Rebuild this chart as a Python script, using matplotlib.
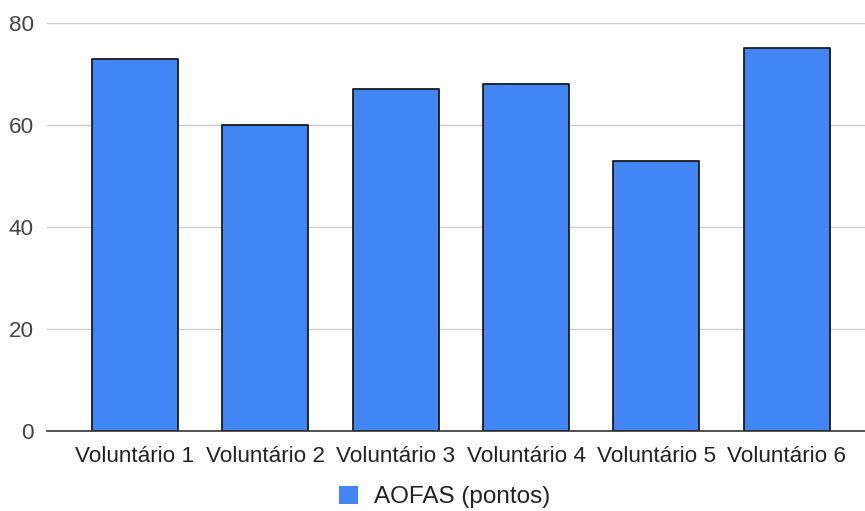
import matplotlib.pyplot as plt
from matplotlib.patches import Patch
import numpy as np

plt.rcParams['font.family'] = ['Liberation Sans', 'DejaVu Sans']

voluntarios = ['Voluntário 1', 'Voluntário 2', 'Voluntário 3',
               'Voluntário 4', 'Voluntário 5', 'Voluntário 6']
aofas = [73, 60, 67, 68, 53, 75]
yticks = [0, 20, 40, 60, 80]

blue = '#4285F4'

fig = plt.figure(figsize=(8.65, 5.11), dpi=100)
ax = fig.add_axes([47 / 865, 80 / 511, 1 - 47 / 865, (431 - 23) / 511])

x = np.arange(len(voluntarios))
ax.bar(x, aofas, width=0.66, color=blue, edgecolor='#1a1a1a',
       linewidth=1.3, joinstyle='round', zorder=3)

ax.set_xlim(-0.675, 5.6)
ax.set_ylim(0, 80)
ax.set_yticks(yticks)
ax.set_xticks(x)
ax.set_xticklabels(voluntarios, fontsize=16.2, color='#222222')
ax.tick_params(axis='y', length=0, pad=9.5, labelsize=16.2, labelcolor='#444444')
ax.tick_params(axis='x', length=0, pad=11)

ax.grid(axis='y', color='#cccccc', linewidth=1, zorder=0)
for side in ['top', 'right', 'left']:
    ax.spines[side].set_visible(False)
ax.spines['bottom'].set_color('#333333')
ax.spines['bottom'].set_linewidth(1.2)
ax.spines['bottom'].set_zorder(4)

fig.legend(handles=[Patch(facecolor=blue, edgecolor='none', label='AOFAS (pontos)')],
           loc='center', bbox_to_anchor=(445 / 865, 1 - 497 / 511), frameon=False,
           fontsize=17.5, handlelength=0.78, handleheight=0.78, handletextpad=0.66,
           labelcolor='#222222', borderpad=0)

fig.savefig('out.png', dpi=100)
